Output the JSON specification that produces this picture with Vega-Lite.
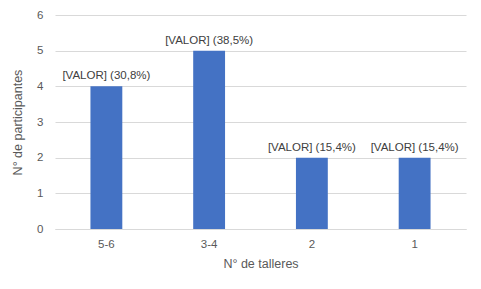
{
  "$schema": "https://vega.github.io/schema/vega-lite/v6.json",
  "width": 411,
  "height": 214,
  "autosize": {"type": "none"},
  "padding": {"left": 55, "top": 15, "right": 15, "bottom": 60},
  "background": "white",
  "config": {
    "view": {"stroke": null},
    "font": "Liberation Sans",
    "axis": {"labelFont": "Liberation Sans", "titleFont": "Liberation Sans", "labelColor": "#595959", "titleColor": "#595959", "titleFontWeight": "normal", "labelFontSize": 11.5, "titleFontSize": 12.5}
  },
  "data": {
    "values": [
      {"talleres": "5-6", "participantes": 4, "etiqueta": "[VALOR] (30,8%)"},
      {"talleres": "3-4", "participantes": 5, "etiqueta": "[VALOR] (38,5%)"},
      {"talleres": "2", "participantes": 2, "etiqueta": "[VALOR] (15,4%)"},
      {"talleres": "1", "participantes": 2, "etiqueta": "[VALOR] (15,4%)"}
    ]
  },
  "encoding": {
    "x": {
      "field": "talleres", "type": "nominal", "sort": null,
      "scale": {"paddingInner": 0.69, "paddingOuter": 0.345},
      "axis": {"title": "N° de talleres", "labelAngle": 0, "ticks": false, "domain": true, "domainColor": "#d9d9d9", "labelPadding": 9, "titlePadding": 8}
    },
    "y": {
      "field": "participantes", "type": "quantitative",
      "scale": {"domain": [0, 6]},
      "axis": {"title": "N° de participantes", "values": [0, 1, 2, 3, 4, 5, 6], "labelOverlap": false, "ticks": false, "domain": false, "gridColor": "#d9d9d9", "labelPadding": 12, "titlePadding": 12}
    }
  },
  "layer": [
    {"mark": {"type": "bar", "color": "#4472C4"}},
    {
      "mark": {"type": "text", "baseline": "bottom", "dy": -5, "fontSize": 11.5, "color": "#404040", "font": "Liberation Sans"},
      "encoding": {"text": {"field": "etiqueta"}}
    }
  ]
}
